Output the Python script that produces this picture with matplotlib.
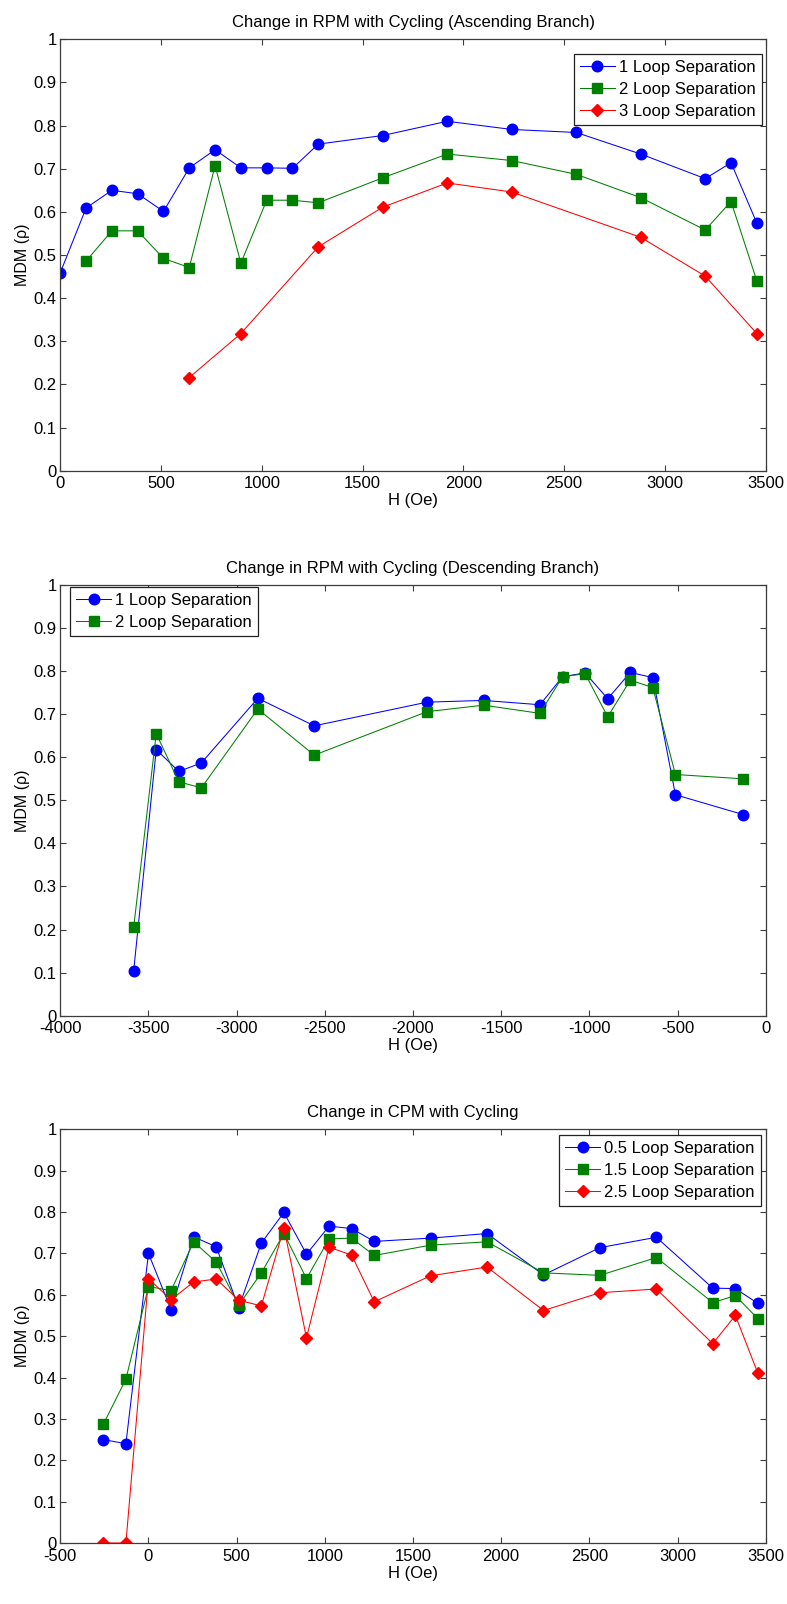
import matplotlib
matplotlib.use("Agg")
import matplotlib.pyplot as plt
from matplotlib.ticker import FuncFormatter

plt.rcParams["font.family"] = ["Liberation Sans", "DejaVu Sans"]
plt.rcParams["axes.unicode_minus"] = False

# ── data ─────────────────────────────────────────────────────────────
asc_h1 = [0, 128, 256, 384, 512, 640, 768, 896, 1024, 1152, 1280,
          1600, 1920, 2240, 2560, 2880, 3200, 3328, 3456]
asc_loop1 = [0.459, 0.609, 0.650, 0.642, 0.601, 0.702, 0.744, 0.702, 0.702, 0.701, 0.757,
             0.777, 0.810, 0.791, 0.784, 0.734, 0.677, 0.714, 0.574]
asc_h2 = [128, 256, 384, 512, 640, 768, 896, 1024, 1152, 1280,
          1600, 1920, 2240, 2560, 2880, 3200, 3328, 3456]
asc_loop2 = [0.486, 0.556, 0.556, 0.492, 0.471, 0.707, 0.481, 0.627, 0.627, 0.621,
             0.679, 0.734, 0.719, 0.687, 0.633, 0.558, 0.624, 0.440]
asc_h3 = [640, 896, 1280, 1600, 1920, 2240, 2880, 3200, 3456]
asc_loop3 = [0.216, 0.318, 0.519, 0.611, 0.667, 0.646, 0.541, 0.451, 0.318]

desc_h = [-3584, -3456, -3328, -3200, -2880, -2560, -1920, -1600,
          -1280, -1152, -1024, -896, -768, -640, -512, -128]
desc_loop1 = [0.104, 0.618, 0.567, 0.587, 0.737, 0.673, 0.728, 0.732,
              0.722, 0.787, 0.796, 0.736, 0.797, 0.785, 0.513, 0.467]
desc_loop2 = [0.205, 0.655, 0.543, 0.529, 0.712, 0.605, 0.706, 0.721,
              0.702, 0.787, 0.794, 0.694, 0.779, 0.762, 0.560, 0.550]

cpm_h = [-256, -128, 0, 128, 256, 384, 512, 640, 768, 896, 1024, 1152, 1280,
         1600, 1920, 2240, 2560, 2880, 3200, 3328, 3456]
cpm_loop05 = [0.250, 0.240, 0.700, 0.564, 0.740, 0.716, 0.569, 0.725, 0.799, 0.698, 0.766,
              0.760, 0.729, 0.737, 0.748, 0.648, 0.714, 0.739, 0.616, 0.615, 0.579]
cpm_loop15 = [0.287, 0.396, 0.620, 0.610, 0.728, 0.679, 0.575, 0.653, 0.748, 0.639, 0.735,
              0.737, 0.695, 0.720, 0.728, 0.653, 0.647, 0.690, 0.581, 0.598, 0.542]
cpm_loop25 = [0.0, 0.0, 0.639, 0.588, 0.631, 0.638, 0.587, 0.573, 0.762, 0.496, 0.715,
              0.696, 0.583, 0.646, 0.667, 0.562, 0.605, 0.614, 0.482, 0.550, 0.410]

y_ticks = [0, 0.1, 0.2, 0.3, 0.4, 0.5, 0.6, 0.7, 0.8, 0.9, 1]

BLUE = "#0000FF"
GREEN = "#008000"
RED = "#FF0000"
SPINE = "#3c3c3c"

styles = {
    "o": dict(color=BLUE, marker="o", markersize=7.6),
    "s": dict(color=GREEN, marker="s", markersize=6.8),
    "D": dict(color=RED, marker="D", markersize=6.2),
}

fig = plt.figure(figsize=(7.87, 16.04), dpi=100)
W, H = 787.0, 1604.0

def make_axes(top, bottom):
    return fig.add_axes([60.3 / W, (H - bottom) / H, (765.7 - 60.3) / W, (bottom - top) / H])

def style_axes(ax, title, xlim, xticks):
    ax.set_xlim(*xlim)
    ax.set_ylim(0, 1)
    ax.set_xticks(xticks)
    ax.set_yticks(y_ticks)
    ax.yaxis.set_major_formatter(FuncFormatter(lambda v, p: f"{v:g}"))
    ax.tick_params(direction="in", length=4.5, width=0.8, color=SPINE,
                   top=True, right=True, labelsize=12, pad=2.5)
    ax.tick_params(axis="x", pad=4)
    for s in ax.spines.values():
        s.set_color(SPINE)
        s.set_linewidth(0.9)
    ax.set_title(title, fontsize=12, pad=9)
    ax.set_xlabel("H (Oe)", fontsize=12, labelpad=1.5)
    ax.set_ylabel("MDM (ρ)", fontsize=11.5, labelpad=3)

def add_legend(ax, loc, anchor):
    leg = ax.legend(loc=loc, bbox_to_anchor=anchor, borderaxespad=0, fontsize=12,
                    numpoints=1, handlelength=2.1, handletextpad=0.25,
                    labelspacing=0.42, borderpad=0.35, fancybox=False, framealpha=1)
    leg.get_frame().set_edgecolor("#222222")
    leg.get_frame().set_linewidth(0.9)

lw = 0.75

# ── panel 1: ascending branch ────────────────────────────────────────
ax1 = make_axes(39.3, 470.7)
ax1.plot(asc_h1, asc_loop1, lw=lw, label="1 Loop Separation", **styles["o"])
ax1.plot(asc_h2, asc_loop2, lw=lw, label="2 Loop Separation", **styles["s"])
ax1.plot(asc_h3, asc_loop3, lw=lw, label="3 Loop Separation", **styles["D"])
style_axes(ax1, "Change in RPM with Cycling (Ascending Branch)", (0, 3500),
           range(0, 3501, 500))
add_legend(ax1, "upper right", (1 - 4 / 705.4, 1 - 15 / 431.4))

# ── panel 2: descending branch ───────────────────────────────────────
ax2 = make_axes(585.0, 1015.7)
ax2.plot(desc_h, desc_loop1, lw=lw, label="1 Loop Separation", **styles["o"])
ax2.plot(desc_h, desc_loop2, lw=lw, label="2 Loop Separation", **styles["s"])
style_axes(ax2, "Change in RPM with Cycling (Descending Branch)", (-4000, 0),
           range(-4000, 1, 500))
add_legend(ax2, "upper left", (10 / 705.4, 1 - 2 / 430.7))

# ── panel 3: CPM ─────────────────────────────────────────────────────
ax3 = make_axes(1129.3, 1543.0)
ax3.plot(cpm_h, cpm_loop05, lw=lw, label="0.5 Loop Separation", **styles["o"])
ax3.plot(cpm_h, cpm_loop15, lw=lw, label="1.5 Loop Separation", **styles["s"])
ax3.plot(cpm_h, cpm_loop25, lw=lw, label="2.5 Loop Separation", **styles["D"])
style_axes(ax3, "Change in CPM with Cycling", (-500, 3500), range(-500, 3501, 500))
add_legend(ax3, "upper right", (1 - 5 / 705.4, 1 - 6 / 413.7))

fig.savefig("out.png", dpi=100, facecolor="white")
plt.close()
